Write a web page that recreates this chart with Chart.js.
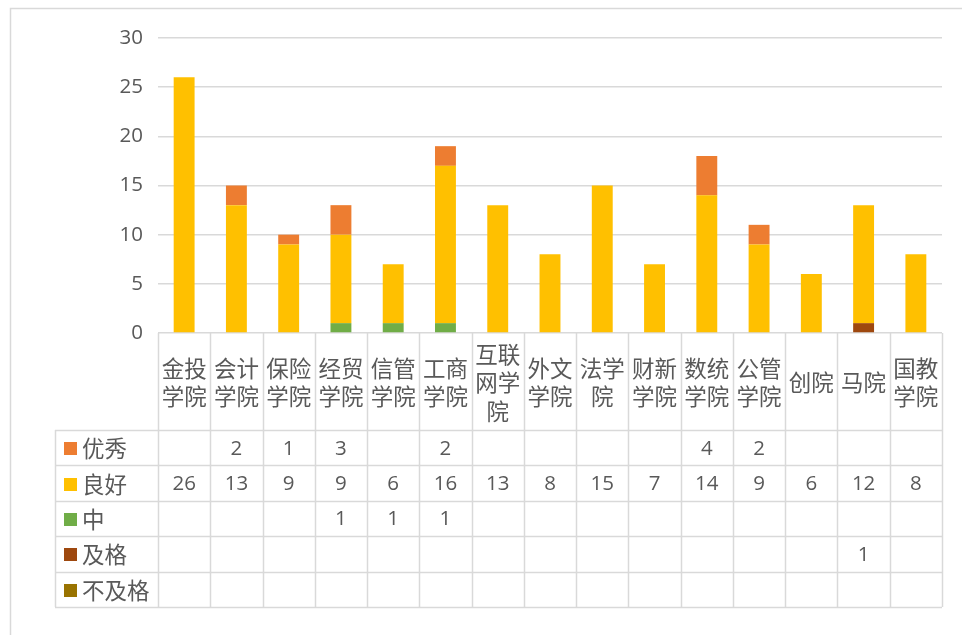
<!DOCTYPE html>
<html>
<head>
<meta charset="utf-8">
<script src="https://cdn.jsdelivr.net/npm/chart.js@4/dist/chart.umd.min.js"></script>
<style>
  html, body { margin: 0; padding: 0; background: #fff; }
  #wrap { width: 962px; height: 635px; position: relative; }
</style>
</head>
<body>
<div id="wrap"><canvas id="myChart"></canvas></div>
<script>
// categories (header lines as they wrap in the data table)
const categories = [
  ['金投', '学院'], ['会计', '学院'], ['保险', '学院'], ['经贸', '学院'], ['信管', '学院'],
  ['工商', '学院'], ['互联', '网学', '院'], ['外文', '学院'], ['法学', '院'], ['财新', '学院'],
  ['数统', '学院'], ['公管', '学院'], ['创院'], ['马院'], ['国教', '学院']
]

const excellent = [null, 2, 1, 3, null, 2, null, null, null, null, 4, 2, null, null, null]
const good      = [26, 13, 9, 9, 6, 16, 13, 8, 15, 7, 14, 9, 6, 12, 8]
const medium    = [null, null, null, 1, 1, 1, null, null, null, null, null, null, null, null, null]
const pass      = [null, null, null, null, null, null, null, null, null, null, null, null, null, 1, null]
const fail      = [null, null, null, null, null, null, null, null, null, null, null, null, null, null, null]

const yTicks = [0, 5, 10, 15, 20, 25, 30]

const textColor = '#595959'
const lineColor = '#d9d9d9'
const numFont = '"Open Sans", "Noto Sans CJK SC", sans-serif'
const cjkFont = '"Noto Sans CJK SC", sans-serif'

// stacked bottom-up
const datasets = [
  { label: '不及格', data: fail, backgroundColor: '#997300' },
  { label: '及格', data: pass, backgroundColor: '#9e480e' },
  { label: '中', data: medium, backgroundColor: '#70ad47' },
  { label: '良好', data: good, backgroundColor: '#ffc000' },
  { label: '优秀', data: excellent, backgroundColor: '#ed7d31' }
]
// order of rows in the data table
const tableRows = ['优秀', '良好', '中', '及格', '不及格']

const headerHeight = 97
const tableLeft = 55

const dataTable = {
  id: 'dataTable',
  beforeDraw(chart) {
    const ctx = chart.ctx
    ctx.save()
    ctx.strokeStyle = lineColor
    ctx.lineWidth = 1.5
    ctx.beginPath()
    ctx.moveTo(10.5, 700)
    ctx.lineTo(10.5, 8.5)
    ctx.lineTo(1000, 8.5)
    ctx.stroke()
    ctx.restore()
  },
  afterDraw(chart) {
    const ctx = chart.ctx
    const area = chart.chartArea
    const top = area.bottom
    const bottom = chart.scales.x.bottom
    const n = categories.length
    const step = (area.right - area.left) / n
    const headBottom = top + headerHeight
    const rowH = (bottom - headBottom) / tableRows.length
    const crisp = v => Math.round(v) + 0.5

    ctx.save()
    ctx.strokeStyle = lineColor
    ctx.lineWidth = 1.5
    ctx.beginPath()
    for (let i = 0; i <= n; i++) {
      const x = crisp(area.left + i * step)
      ctx.moveTo(x, top)
      ctx.lineTo(x, bottom)
    }
    ctx.moveTo(crisp(tableLeft), headBottom)
    ctx.lineTo(crisp(tableLeft), bottom)
    for (let r = 0; r <= tableRows.length; r++) {
      const y = crisp(headBottom + r * rowH)
      ctx.moveTo(tableLeft, y)
      ctx.lineTo(area.right, y)
    }
    ctx.stroke()

    ctx.fillStyle = textColor
    ctx.font = '22.5px ' + cjkFont
    ctx.textAlign = 'center'
    ctx.textBaseline = 'middle'
    const lineH = 28.5
    categories.forEach((lines, i) => {
      const cx = chart.scales.x.getPixelForValue(i)
      const cy = top + headerHeight / 2 + 1
      lines.forEach((t, k) => {
        ctx.fillText(t, cx, cy + (k - (lines.length - 1) / 2) * lineH)
      })
    })

    tableRows.forEach((name, r) => {
      const ds = chart.data.datasets.find(d => d.label === name)
      const cy = headBottom + r * rowH + rowH / 2 + 1
      ctx.fillStyle = ds.backgroundColor
      ctx.fillRect(64, Math.round(cy - 6.5), 13, 13)
      ctx.fillStyle = textColor
      ctx.textAlign = 'left'
      ctx.font = '22.5px ' + cjkFont
      ctx.fillText(name, 82, cy)
      ctx.textAlign = 'center'
      ctx.font = '20.5px ' + numFont
      ds.data.forEach((v, i) => {
        if (v === null) return
        ctx.fillText(String(v), chart.scales.x.getPixelForValue(i), cy)
      })
    })
    ctx.restore()
  }
}

const ctx = document.getElementById('myChart')

new Chart(ctx, {
  type: 'bar',
  data: {
    labels: categories.map(c => c.join('')),
    datasets: datasets.map(d => ({ ...d, barPercentage: 0.4, categoryPercentage: 1, borderWidth: 0 }))
  },
  options: {
    responsive: true,
    maintainAspectRatio: false,
    animation: false,
    layout: { padding: { left: tableLeft, right: 20, top: 38, bottom: 28 } },
    plugins: {
      legend: { display: false },
      tooltip: { enabled: false }
    },
    scales: {
      x: {
        stacked: true,
        grid: { display: false },
        border: { display: false },
        ticks: { display: false },
        afterFit(scale) { scale.height = 274 }
      },
      y: {
        stacked: true,
        min: 0,
        max: 30,
        afterBuildTicks(scale) { scale.ticks = yTicks.map(v => ({ value: v })) },
        grid: { color: lineColor, lineWidth: 1.5, drawTicks: false },
        border: { display: false },
        ticks: { color: textColor, font: { size: 20.5, family: numFont }, padding: 15 },
        afterFit(scale) { scale.width = 103 }
      }
    }
  },
  plugins: [dataTable]
})
</script>
</body>
</html>
